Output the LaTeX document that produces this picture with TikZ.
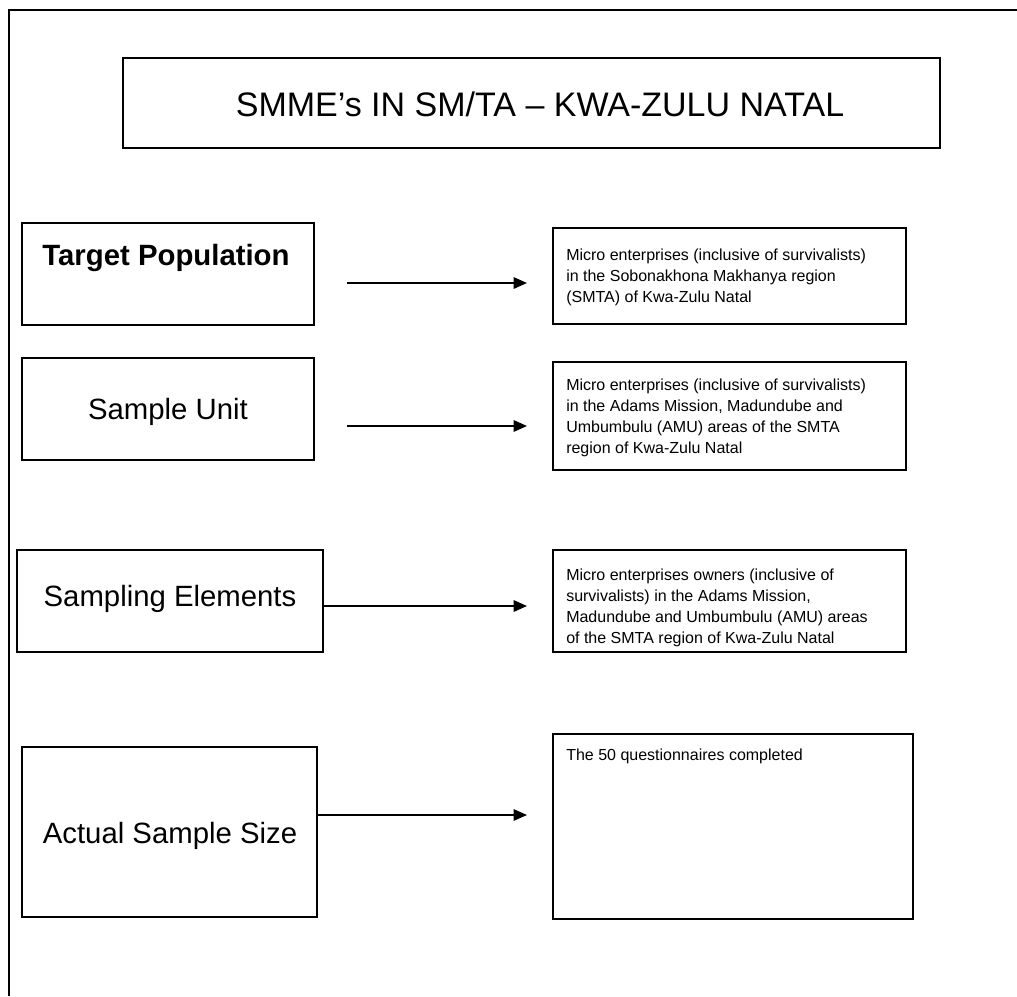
\documentclass[tikz,border=0pt]{standalone}
\usepackage{fontspec}
\setmainfont{Liberation Sans}
\usetikzlibrary{arrows.meta,fit}
\begin{document}
\begin{tikzpicture}[x=0.75pt,y=-0.75pt,
  box/.style={draw,line width=1.4pt,rectangle,inner sep=0pt},
  conn/.style={line width=1.4pt,-{Triangle[length=10pt,width=8.5pt]}},
  lbl/.style={font=\fontsize{22}{26}\selectfont,inner sep=0pt},
  desc/.style={font=\fontsize{12}{15.75}\selectfont,align=left,anchor=north west,inner sep=0pt}]
\useasboundingbox (0,0) rectangle (1017,996);
\draw[line width=1.4pt] (9,996) -- (9,10) -- (1017,10);
% title
\node[box,fit={(123,58) (940,148)}] (title) {};
\node[font=\fontsize{25.5}{30}\selectfont,inner sep=0pt] (titletext) at (540,104) {SMME’s IN SM/TA – KWA-ZULU NATAL};
% left boxes
\node[box,fit={(22,223) (314,325)}] (tp) {};
\node[lbl,font=\fontsize{22}{26}\selectfont\bfseries] (tptext) at (166,258) {Target Population};
\node[box,fit={(22,358) (314,460)}] (su) {};
\node[lbl] (sutext) at (168,412) {Sample Unit};
\node[box,fit={(17,550) (323,652)}] (se) {};
\node[lbl] (setext) at (170,599) {Sampling Elements};
\node[box,fit={(22,747) (317,917)}] (ss) {};
\node[lbl] (sstext) at (170,836) {Actual Sample Size};
% right boxes
\node[box,fit={(553,228) (906,324)}] (r1) {};
\node[desc] (r1text) at (566,249) {Micro enterprises (inclusive of survivalists)\\in the Sobonakhona Makhanya region\\(SMTA) of Kwa-Zulu Natal};
\node[box,fit={(553,362) (906,470)}] (r2) {};
\node[desc] (r2text) at (566,379) {Micro enterprises (inclusive of survivalists)\\in the Adams Mission, Madundube and\\Umbumbulu (AMU) areas of the SMTA\\region of Kwa-Zulu Natal};
\node[box,fit={(553,550) (906,652)}] (r3) {};
\node[desc] (r3text) at (566,569) {Micro enterprises owners (inclusive of\\survivalists) in the Adams Mission,\\Madundube and Umbumbulu (AMU) areas\\of the SMTA region of Kwa-Zulu Natal};
\node[box,fit={(553,734) (913,919)}] (r4) {};
\node[desc] (r4text) at (566,749) {The 50 questionnaires completed};
% connectors
\coordinate (a1s) at (347,283); \coordinate (a1e) at (527,283);
\coordinate (a2s) at (347,426); \coordinate (a2e) at (527,426);
\coordinate (a3e) at (527,606);
\coordinate (a4e) at (527,815);
\draw[conn] (a1s) -- (a1e);
\draw[conn] (a2s) -- (a2e);
\draw[conn] (se.east |- a3e) -- (a3e);
\draw[conn] (ss.east |- a4e) -- (a4e);
\end{tikzpicture}
\end{document}
